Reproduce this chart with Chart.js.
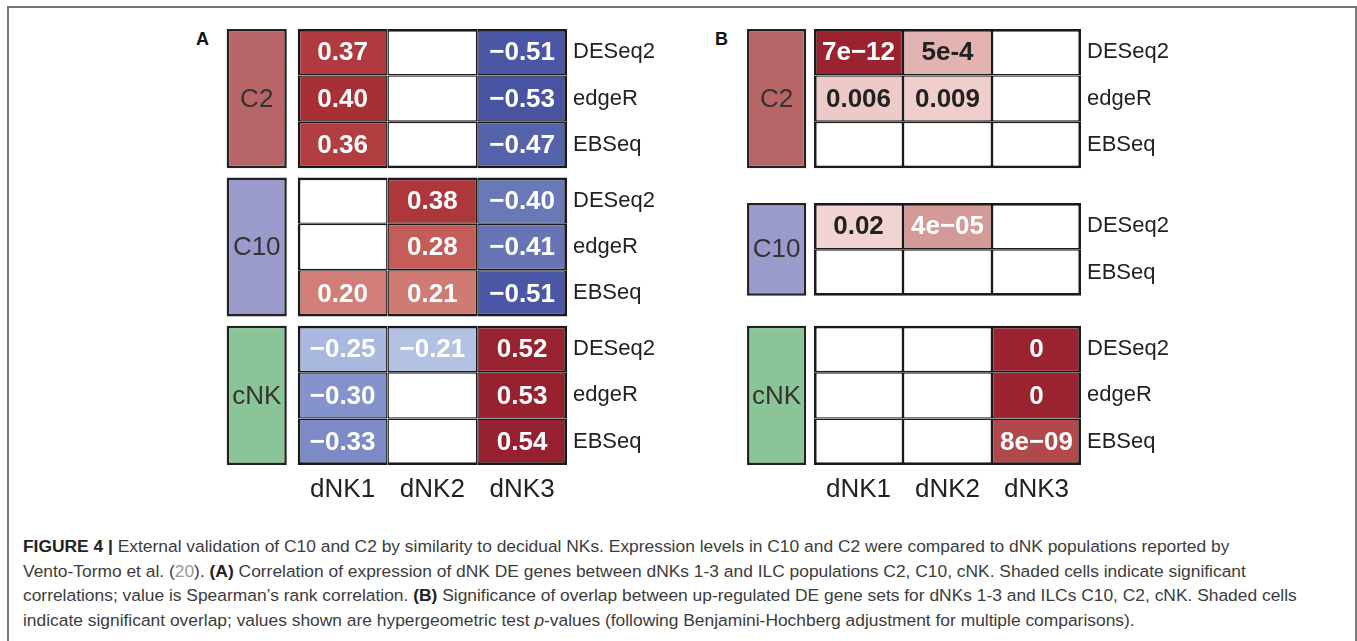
<!DOCTYPE html>
<html>
<head>
<meta charset="utf-8">
<script src="https://cdn.jsdelivr.net/npm/chart.js@4.4.1/dist/chart.umd.min.js"></script>
<style>
  html, body { margin: 0; padding: 0; background: #fff; overflow: hidden; }
  #fig { position: relative; width: 1357px; height: 641px; overflow: hidden;
         font-family: "Liberation Sans", Arial, Helvetica, sans-serif; }
  #frame { position: absolute; left: 7px; top: 6px; width: 1346px; height: 720px;
           border: 2px solid #777; border-bottom: none; }
  .panel { position: absolute; top: 19px; height: 486px; }
  .tag { position: absolute; top: 29px; font-weight: bold; font-size: 18px; color: #111; }
  #caption { position: absolute; left: 23px; top: 534px; font-size: 17.4px; line-height: 24.6px;
             color: #3c3c3c; white-space: nowrap; }
  #caption b { color: #222; }
  #caption .ref { color: #999; }
</style>
</head>
<body>
<div id="fig">
  <div id="frame"></div>
  <div class="tag" style="left:196px">A</div>
  <div class="tag" style="left:715px">B</div>
  <div class="panel" style="left:198px;width:469px"><canvas id="chartA"></canvas></div>
  <div class="panel" style="left:715px;width:466px"><canvas id="chartB"></canvas></div>
  <div id="caption"><b>FIGURE 4 |</b> External validation of C10 and C2 by similarity to decidual NKs. Expression levels in C10 and C2 were compared to dNK populations reported by<br>Vento-Tormo et al. (<span class="ref">20</span>). <b>(A)</b> Correlation of expression of dNK DE genes between dNKs 1-3 and ILC populations C2, C10, cNK. Shaded cells indicate significant<br>correlations; value is Spearman’s rank correlation. <b>(B)</b> Significance of overlap between up-regulated DE gene sets for dNKs 1-3 and ILCs C10, C2, cNK. Shaded cells<br>indicate significant overlap; values shown are hypergeometric test <i>p</i>-values (following Benjamini-Hochberg adjustment for multiple comparisons).</div>
</div>
<script>
const dnkColumns = ['dNK1', 'dNK2', 'dNK3'];
const ilcGroups = ['C2', 'C10', 'cNK'];

// A: Spearman correlation, null = not significant
const methodsA = [['DESeq2', 'edgeR', 'EBSeq'], ['DESeq2', 'edgeR', 'EBSeq'], ['DESeq2', 'edgeR', 'EBSeq']];
const corrC2  = [[0.37, null, -0.51], [0.40, null, -0.53], [0.36, null, -0.47]];
const corrC10 = [[null, 0.38, -0.40], [null, 0.28, -0.41], [0.20, 0.21, -0.51]];
const corrCNK = [[-0.25, -0.21, 0.52], [-0.30, null, 0.53], [-0.33, null, 0.54]];

// B: hypergeometric p-values as printed, null = not significant
const methodsB = [['DESeq2', 'edgeR', 'EBSeq'], ['DESeq2', 'EBSeq'], ['DESeq2', 'edgeR', 'EBSeq']];
const pvalC2  = [['7e−12', '5e-4', null], ['0.006', '0.009', null], [null, null, null]];
const pvalC10 = [['0.02', '4e−05', null], [null, null, null]];
const pvalCNK = [[null, null, '0'], [null, null, '0'], [null, null, '8e−09']];

// ----- styling -----
const FONT = '"Liberation Sans", Arial, Helvetica, sans-serif';
const GROUP_FILL = { C2: '#b86567', C10: '#9a9acb', cNK: '#8bc597' };
const RED = [[0, '#f3d9d6'], [0.1, '#e9b3ad'], [0.2, '#d27e78'], [0.3, '#c05552'], [0.4, '#a92f37'], [0.55, '#951f2e']];
const BLUE = [[0, '#dfe5f3'], [0.2, '#b5c3e4'], [0.25, '#a9b8de'], [0.3, '#8493cc'], [0.4, '#6a78b8'], [0.5, '#4c58a7'], [0.55, '#464f9f']];
const PINK = [[1.3, '#f5dbda'], [2, '#efcfcd'], [3.3, '#e2b3b1'], [4.4, '#d49a98'], [8, '#b24a4c'], [11, '#9b2330']];
const Y_MAX = 9.4;

const hex = (h) => [1, 3, 5].map(i => parseInt(h.slice(i, i + 2), 16));
function ramp(stops, t) {
  if (t <= stops[0][0]) return stops[0][1];
  for (let i = 1; i < stops.length; i++) {
    if (t <= stops[i][0]) {
      const [t0, c0] = stops[i - 1], [t1, c1] = stops[i];
      const f = (t - t0) / (t1 - t0), a = hex(c0), b = hex(c1);
      return `rgb(${a.map((v, k) => Math.round(v + (b[k] - v) * f)).join(',')})`;
    }
  }
  return stops[stops.length - 1][1];
}
const pScore = (s) => { const p = Number(s.replace('−', '-')); return p > 0 ? -Math.log10(p) : 12; };

function fillFor(kind, d) {
  if (kind === 'group') return GROUP_FILL[d.g];
  if (d.v == null) return '#fff';
  if (kind === 'corr') return ramp(d.v > 0 ? RED : BLUE, Math.abs(d.v));
  return ramp(PINK, pScore(d.v));
}
function labelFor(kind, d) {
  if (kind === 'group') return d.g;
  if (d.v == null) return null;
  if (kind === 'corr') return (d.v < 0 ? '−' : '') + Math.abs(d.v).toFixed(2);
  return d.v;
}
function inkFor(kind, d) {
  if (kind === 'group') return '#333';
  if (kind === 'pval' && pScore(d.v) < 4) return '#222';
  return '#fff';
}

const cellText = {
  id: 'cellText',
  afterDatasetsDraw(chart) {
    const { ctx } = chart;
    chart.data.datasets.forEach((ds, i) => {
      chart.getDatasetMeta(i).data.forEach((el, j) => {
        const d = ds.data[j], txt = labelFor(ds.kind, d);
        if (!txt) return;
        const { x, y } = el.getCenterPoint();
        ctx.save();
        ctx.font = (ds.kind === 'group' ? '' : 'bold ') + '26px ' + FONT;
        ctx.fillStyle = inkFor(ds.kind, d);
        ctx.textAlign = 'center';
        ctx.textBaseline = 'middle';
        ctx.fillText(txt, x, y + 1);
        ctx.restore();
      });
    });
  }
};

function makePanel(canvasId, matrices, methods, kind, { starts, boxAt, boxW }) {
  const cells = [], boxes = [], rowTicks = [], rowNames = [];
  matrices.forEach((m, g) => {
    const top = starts[g];
    boxes.push({ x: boxAt, y: [top, top + m.length], g: ilcGroups[g] });
    m.forEach((row, r) => {
      rowTicks.push(top + r + 0.5);
      rowNames.push(methods[g][r]);
      row.forEach((v, c) => cells.push({ x: c + 0.5, y: [top + r, top + r + 1], v, r, c, n: m.length }));
    });
  });
  const OUT = 2.7, IN = 1.4;
  const edges = (c) => {
    const d = c.raw; if (!d) return IN;
    return { top: d.r === 0 ? OUT : IN, bottom: d.r === d.n - 1 ? OUT : IN,
             left: d.c === 0 ? OUT : IN, right: d.c === dnkColumns.length - 1 ? OUT : IN };
  };
  const noPad = (s) => { s.paddingTop = 0; s.paddingBottom = 0; s.paddingLeft = 0; s.paddingRight = 0; };
  const ctx = document.getElementById(canvasId).getContext('2d');
  return new Chart(ctx, {
    type: 'bar',
    data: { datasets: [
      { kind, data: cells, xAxisID: 'x', yAxisID: 'y', grouped: false,
        barPercentage: 1, categoryPercentage: 1, inflateAmount: 0, borderSkipped: false,
        borderColor: '#1a1a1a', borderWidth: edges,
        backgroundColor: (c) => c.raw ? fillFor(kind, c.raw) : '#fff' },
      { kind: 'group', data: boxes, xAxisID: 'xl', yAxisID: 'y', grouped: false,
        barPercentage: boxW, categoryPercentage: 1, inflateAmount: 0, borderSkipped: false,
        borderColor: '#222', borderWidth: 2.5,
        backgroundColor: (c) => c.raw ? fillFor('group', c.raw) : '#fff' }
    ]},
    options: {
      responsive: true, maintainAspectRatio: false, animation: false, events: [],
      layout: { padding: { left: 10, top: 10, right: 5, bottom: 0 } },
      plugins: { legend: { display: false }, tooltip: { enabled: false } },
      scales: {
        x: { type: 'linear', min: -1, max: 3, offset: false, position: 'bottom',
             grid: { display: false, drawTicks: false }, border: { display: false },
             afterBuildTicks: (s) => { s.ticks = dnkColumns.map((_, i) => ({ value: i + 0.5 })); },
             afterFit: (s) => { s.height = 40; noPad(s); },
             ticks: { autoSkip: false, maxRotation: 0, padding: 9, color: '#222',
                      font: { family: FONT, size: 26 }, callback: (v, i) => dnkColumns[i] } },
        xl: { type: 'linear', display: false, min: -1, max: 3, offset: false,
              afterBuildTicks: (s) => { s.ticks = [-1, 0, 1, 2, 3].map(v => ({ value: v })); } },
        y: { type: 'linear', position: 'right', reverse: true, min: 0, max: Y_MAX,
             grid: { display: false, drawTicks: false }, border: { display: false },
             afterBuildTicks: (s) => { s.ticks = rowTicks.map(v => ({ value: v })); },
             afterFit: (s) => { s.width = 95; noPad(s); },
             ticks: { autoSkip: false, padding: 6, color: '#222',
                      font: { family: FONT, size: 22 }, callback: (v, i) => rowNames[i] } }
      }
    },
    plugins: [cellText]
  });
}

makePanel('chartA', [corrC2, corrC10, corrCNK], methodsA, 'corr', { starts: [0, 3.2, 6.4], boxAt: -0.457, boxW: 0.67 });
makePanel('chartB', [pvalC2, pvalC10, pvalCNK], methodsB, 'pval', { starts: [0, 3.75, 6.4], boxAt: -0.42, boxW: 0.665 });
</script>
</body>
</html>
